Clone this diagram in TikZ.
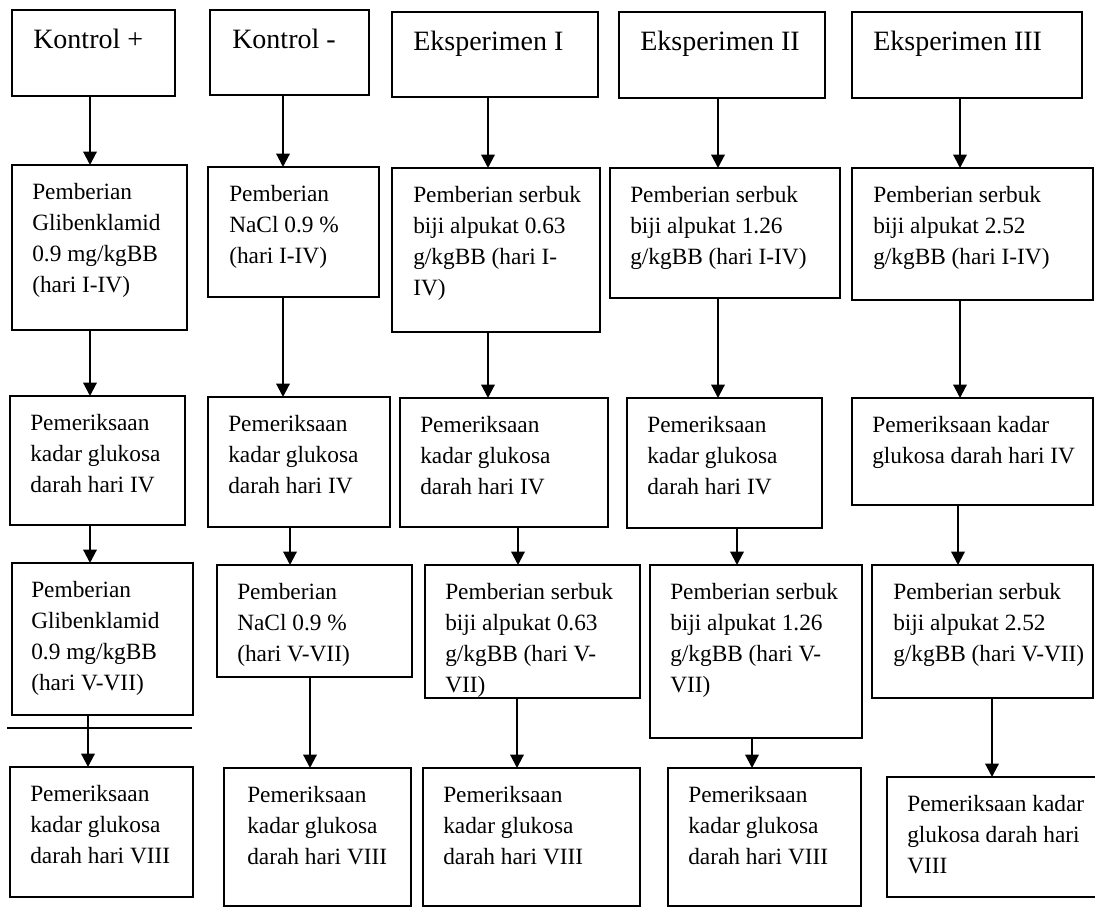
\documentclass[tikz,border=0pt]{standalone}
\usepackage{fontspec}
\setmainfont{Liberation Serif}
\usetikzlibrary{arrows.meta}
\tikzset{
  boxst/.style={draw, line width=1.8pt, rectangle, anchor=north west, inner sep=0pt, outer sep=0pt},
  txtst/.style={anchor=north west, inner sep=0pt, align=left, font=\fontsize{17.5}{23.25}\selectfont},
  ttlst/.style={anchor=north west, inner sep=0pt, align=left, font=\fontsize{21}{25}\selectfont},
  arr/.style={line width=1.6pt, -{Triangle[length=10pt,width=10pt]}}
}
\newcommand\mybox[7]{%
  \node[boxst, minimum width={(#4-#2)*0.75pt}, minimum height={(#5-#3)*0.75pt}] (#1) at (#2,#3) {};
  \node[txtst] (#1t) at (#6,#3+18) {#7};}
\newcommand\ttlbox[7]{%
  \node[boxst, minimum width={(#4-#2)*0.75pt}, minimum height={(#5-#3)*0.75pt}] (#1) at (#2,#3) {};
  \node[ttlst] (#1t) at (#6,#3+19) {#7};}
\begin{document}
\begin{tikzpicture}[x=0.75pt,y=-0.75pt]
\fill[white] (0,0) rectangle (1095,909);
\useasboundingbox (0,0) rectangle (1095,909);
% Row 1
\ttlbox{A1}{12}{10}{175}{96}{33}{Kontrol +}
\ttlbox{B1}{210}{10}{369}{95}{232}{Kontrol -}
\ttlbox{C1}{392}{12}{598}{97}{413}{Eksperimen I}
\ttlbox{D1}{619}{12}{825}{98}{640}{Eksperimen II}
\ttlbox{E1}{852}{12}{1082}{98}{873}{Eksperimen III}
% Row 2
\mybox{A2}{12}{165}{187}{330}{32}{Pemberian\\Glibenklamid\\0.9 mg/kgBB\\(hari I-IV)}
\mybox{B2}{208}{167}{379}{297}{229}{Pemberian\\NaCl 0.9 \%\\(hari I-IV)}
\mybox{C2}{392}{168}{600}{332}{413}{Pemberian serbuk\\biji alpukat 0.63\\g/kgBB (hari I-\\IV)}
\mybox{D2}{610}{168}{840}{298}{630}{Pemberian serbuk\\biji alpukat 1.26\\g/kgBB (hari I-IV)}
\mybox{E2}{852}{168}{1093}{300}{873}{Pemberian serbuk\\biji alpukat 2.52\\g/kgBB (hari I-IV)}
% Row 3
\mybox{A3}{10}{396}{185}{525}{30}{Pemeriksaan\\kadar glukosa\\darah hari IV}
\mybox{B3}{208}{397}{390}{527}{228}{Pemeriksaan\\kadar glukosa\\darah hari IV}
\mybox{C3}{400}{398}{608}{527}{420}{Pemeriksaan\\kadar glukosa\\darah hari IV}
\mybox{D3}{627}{398}{822}{528}{647}{Pemeriksaan\\kadar glukosa\\darah hari IV}
\mybox{E3}{852}{398}{1093}{505}{872}{Pemeriksaan kadar\\glukosa darah hari IV}
% Row 4
\mybox{A4}{12}{563}{193}{715}{31}{Pemberian\\Glibenklamid\\0.9 mg/kgBB\\(hari V-VII)}
\mybox{B4}{217}{565}{412}{677}{237}{Pemberian\\NaCl 0.9 \%\\(hari V-VII)}
\mybox{C4}{425}{565}{640}{698}{445}{Pemberian serbuk\\biji alpukat 0.63\\g/kgBB (hari V-\\VII)}
\mybox{D4}{650}{565}{862}{738}{670}{Pemberian serbuk\\biji alpukat 1.26\\g/kgBB (hari V-\\VII)}
\mybox{E4}{872}{565}{1093}{698}{893}{Pemberian serbuk\\biji alpukat 2.52\\g/kgBB (hari V-VII)}
% Row 5
\mybox{A5}{10}{767}{193}{897}{30}{Pemeriksaan\\kadar glukosa\\darah hari VIII}
\mybox{B5}{224}{768}{411}{906}{247}{Pemeriksaan\\kadar glukosa\\darah hari VIII}
\mybox{C5}{423}{768}{640}{906}{443}{Pemeriksaan\\kadar glukosa\\darah hari VIII}
\mybox{D5}{668}{768}{861}{906}{688}{Pemeriksaan\\kadar glukosa\\darah hari VIII}
\mybox{E5}{887}{777}{1100}{897}{907}{Pemeriksaan kadar\\glukosa darah hari\\VIII}
% Arrows row1 -> row2
\draw[arr] (A1.south -| 90,0) -- (A2.north -| 90,0);
\draw[arr] (B1.south -| 283,0) -- (B2.north -| 283,0);
\draw[arr] (C1.south -| 488,0) -- (C2.north -| 488,0);
\draw[arr] (D1.south -| 718,0) -- (D2.north -| 718,0);
\draw[arr] (E1.south -| 960,0) -- (E2.north -| 960,0);
% row2 -> row3
\draw[arr] (A2.south -| 90,0) -- (A3.north -| 90,0);
\draw[arr] (B2.south -| 283,0) -- (B3.north -| 283,0);
\draw[arr] (C2.south -| 488,0) -- (C3.north -| 488,0);
\draw[arr] (D2.south -| 718,0) -- (D3.north -| 718,0);
\draw[arr] (E2.south -| 960,0) -- (E3.north -| 960,0);
% row3 -> row4
\draw[arr] (A3.south -| 90,0) -- (A4.north -| 90,0);
\draw[arr] (B3.south -| 290,0) -- (B4.north -| 290,0);
\draw[arr] (C3.south -| 518,0) -- (C4.north -| 518,0);
\draw[arr] (D3.south -| 737,0) -- (D4.north -| 737,0);
\draw[arr] (E3.south -| 958,0) -- (E4.north -| 958,0);
% row4 -> row5
\draw[arr] (A4.south -| 88,0) -- (A5.north -| 88,0);
\draw[arr] (B4.south -| 310,0) -- (B5.north -| 310,0);
\draw[arr] (C4.south -| 517,0) -- (C5.north -| 517,0);
\draw[arr] (D4.south -| 752,0) -- (D5.north -| 752,0);
\draw[arr] (E4.south -| 992,0) -- (E5.north -| 992,0);
% stray rule under first column
\draw[line width=1.2pt] (7,728) -- (192,728);
\end{tikzpicture}
\end{document}
